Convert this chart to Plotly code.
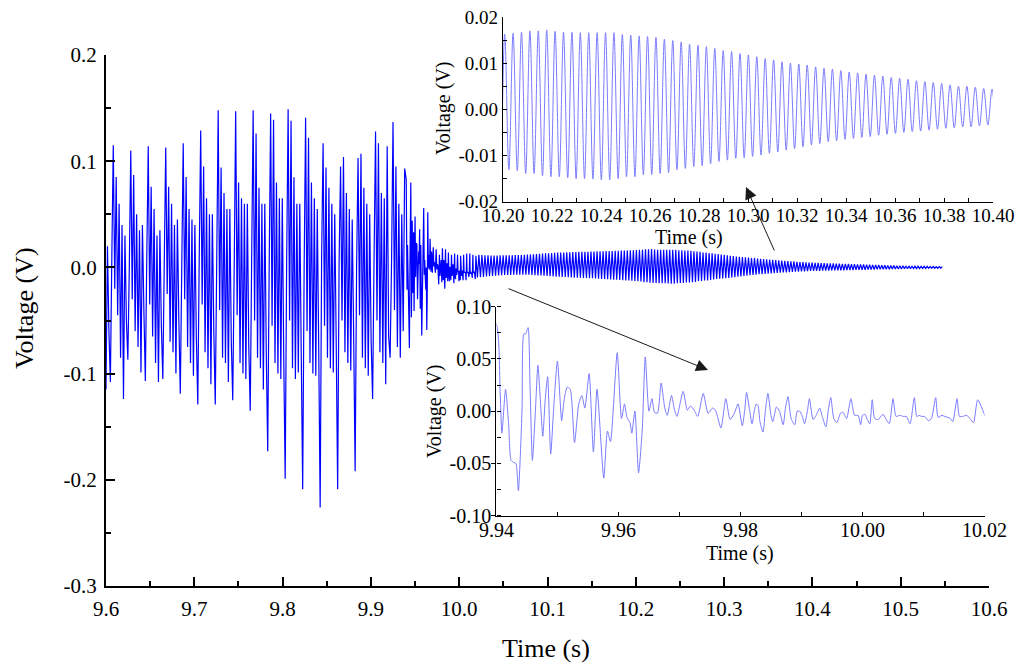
import plotly.graph_objects as go

MAIN_BLUE = "#0000ff"
INSET_BLUE = "#7b7bff"
FONT = "Liberation Serif"

# the page puts the figure 8 px in from the top-left corner of the window
OFF = 8
FW, FH = 1008, 656

# --- burst 9.600-9.938 s: one value every 1.65 ms, 12 values per ~19.8 ms cycle
BURST_T0 = 9.600
BURST_DT = 0.00165
burst_v = [
    -0.115, 0.020, -0.060, -0.108, 0.010, 0.115, -0.020, 0.085, -0.045, 0.060, -0.085, 0.040,
    -0.124, 0.030, -0.050, -0.087, 0.000, 0.110, -0.030, 0.087, -0.060, 0.050, -0.075, 0.035,
    -0.099, 0.040, -0.040, -0.107, 0.010, 0.114, -0.035, 0.076, -0.065, 0.055, -0.090, 0.030,
    -0.108, 0.035, -0.055, -0.105, 0.005, 0.113, -0.025, 0.076, -0.070, 0.060, -0.080, 0.040,
    -0.100, 0.045, -0.050, -0.119, 0.000, 0.117, -0.030, 0.085, -0.075, 0.055, -0.090, 0.045,
    -0.102, 0.040, -0.065, -0.129, 0.010, 0.129, -0.035, 0.095, -0.080, 0.065, -0.095, 0.050,
    -0.110, 0.050, -0.060, -0.129, 0.005, 0.148, -0.040, 0.094, -0.085, 0.070, -0.090, 0.055,
    -0.108, 0.055, -0.070, -0.125, 0.000, 0.147, -0.045, 0.080, -0.090, 0.065, -0.100, 0.060,
    -0.105, 0.060, -0.075, -0.135, 0.010, 0.148, -0.050, 0.126, -0.085, 0.075, -0.095, 0.060,
    -0.115, 0.060, -0.080, -0.173, 0.000, 0.145, -0.055, 0.139, -0.090, 0.080, -0.100, 0.065,
    -0.105, 0.065, -0.085, -0.199, 0.005, 0.149, -0.050, 0.138, -0.095, 0.085, -0.105, 0.060,
    -0.099, 0.060, -0.080, -0.209, 0.000, 0.141, -0.060, 0.122, -0.090, 0.080, -0.100, 0.065,
    -0.102, 0.055, -0.075, -0.226, 0.010, 0.117, -0.055, 0.094, -0.085, 0.075, -0.095, 0.060,
    -0.099, 0.050, -0.070, -0.209, 0.005, 0.095, -0.050, 0.104, -0.080, 0.070, -0.090, 0.055,
    -0.097, 0.045, -0.065, -0.192, 0.000, 0.103, -0.045, 0.107, -0.085, 0.075, -0.095, 0.060,
    -0.102, 0.050, -0.070, -0.124, 0.010, 0.128, -0.050, 0.117, -0.080, 0.070, -0.090, 0.065,
    -0.110, 0.114, -0.065, -0.085, 0.005, 0.137, -0.040, 0.095, -0.075, 0.060, -0.085, 0.050,
    -0.060, 0.093,
]

# --- 9.94-10.02 s
detail_t = [
    9.9400, 9.9406, 9.9409, 9.9415, 9.9420, 9.9424, 9.9428, 9.9432, 9.9436, 9.9442,
    9.9445, 9.9448, 9.9452, 9.9455, 9.9459, 9.9464, 9.9468, 9.9472, 9.9476, 9.9480,
    9.9484, 9.9489, 9.9494, 9.9500, 9.9507, 9.9511, 9.9516, 9.9521, 9.9528, 9.9535,
    9.9540, 9.9545, 9.9552, 9.9559, 9.9565, 9.9576, 9.9582, 9.9587, 9.9598, 9.9605,
    9.9610, 9.9614, 9.9619, 9.9622, 9.9627, 9.9633, 9.9639, 9.9644, 9.9650, 9.9655,
    9.9659, 9.9664, 9.9670, 9.9676, 9.9680, 9.9687, 9.9692, 9.9696, 9.9706, 9.9713,
    9.9718, 9.9724, 9.9730, 9.9739, 9.9747, 9.9754, 9.9759, 9.9768, 9.9776, 9.9783,
    9.9790, 9.9796,
    9.9803, 9.9807, 9.9810, 9.9815, 9.9819, 9.9823, 9.9826, 9.9829, 9.9832, 9.9837,
    9.9841, 9.9845, 9.9850, 9.9853, 9.9859, 9.9864, 9.9870, 9.9874, 9.9878, 9.9883,
    9.9889, 9.9893, 9.9897, 9.9901, 9.9905, 9.9910, 9.9913, 9.9919, 9.9924, 9.9930,
    9.9934, 9.9940, 9.9944, 9.9948, 9.9953, 9.9958, 9.9964, 9.9968, 9.9974, 9.9981,
    9.9987, 9.9993, 9.9997, 10.0000, 10.0004, 10.0008, 10.0012, 10.0016, 10.0020, 10.0026,
    10.0030, 10.0034, 10.0038, 10.0044, 10.0050, 10.0055, 10.0061, 10.0067, 10.0072, 10.0078,
    10.0085, 10.0089, 10.0093, 10.0097, 10.0102, 10.0108, 10.0113, 10.0120, 10.0124, 10.0130,
    10.0135, 10.0144, 10.0148, 10.0155, 10.0159, 10.0164, 10.0171, 10.0176, 10.0182, 10.0189,
]
detail_v = [
    0.083, 0.021, -0.021, 0.021, -0.012, -0.047, -0.049, -0.050, -0.076, 0.001,
    0.074, 0.074, 0.080, 0.027, -0.047, 0.001, 0.044, 0.011, -0.024, 0.011,
    0.033, -0.041, 0.004, 0.048, -0.009, 0.011, 0.023, 0.021, -0.030, 0.007,
    0.015, 0.003, 0.036, -0.039, 0.021, -0.064, -0.019, -0.029, 0.056, -0.007,
    0.007, -0.006, -0.011, -0.021, 0.000, -0.059, -0.018, 0.052, 0.000, 0.012,
    -0.001, -0.002, 0.027, 0.003, -0.004, 0.015, 0.001, -0.005, 0.019, 0.001,
    0.005, 0.001, -0.005, 0.017, -0.002, 0.003, 0.001, -0.016, 0.012, -0.008,
    -0.002, 0.007,
    -0.014, 0.001, 0.018, 0.001, -0.012, 0.001, 0.007, 0.005, -0.010, -0.020,
    0.001, 0.017, -0.004, -0.010, 0.004, 0.000, -0.013, 0.004, 0.014, -0.007,
    -0.013, 0.000, 0.000, -0.004, -0.012, 0.001, 0.012, -0.008, -0.004, 0.003,
    -0.005, -0.015, 0.001, 0.013, -0.007, -0.011, -0.002, -0.001, -0.007, 0.012,
    -0.004, -0.004, -0.013, -0.004, -0.003, -0.008, -0.012, 0.011, -0.007, -0.008,
    -0.005, -0.003, -0.007, -0.012, 0.012, -0.005, -0.004, -0.005, -0.005, -0.012,
    0.013, -0.005, -0.004, -0.005, -0.005, -0.009, -0.007, 0.013, -0.006, -0.004,
    -0.005, -0.007, -0.010, 0.012, -0.005, -0.005, -0.004, -0.007, -0.011, 0.011,
]

# --- ringing after 10.02 s: one trough + one peak per period, from the last detail peak
TAIL_T0 = 10.0189
TAIL_PERIOD = 0.00343
tail_troughs = [
    -.0095, -.0092, -.0089, -.0086, -.0083, -.0080, -.0078, -.0076, -.0074, -.0072,
    -.0071, -.0070, -.0069, -.0068, -.0068, -.0068, -.0068, -.0069, -.0071, -.0073,
    -.0075, -.0077, -.0079, -.0081, -.0083, -.0085, -.0087, -.0088, -.0090, -.0091,
    -.0093, -.0094, -.0096, -.0097, -.0098, -.0099, -.0100, -.0101, -.0102, -.0104,
    -.0106, -.0108, -.0110, -.0111, -.0113, -.0115, -.0117, -.0118, -.0120, -.0122,
    -.0124, -.0126, -.0128,
    -.0131, -.0133, -.0139, -.0139, -.0144, -.0146, -.0146, -.0148, -.0150, -.0150,
    -.0151, -.0153, -.0153, -.0150, -.0146, -.0146, -.0142, -.0141, -.0139, -.0137,
    -.0131, -.0128, -.0124, -.0122, -.0118, -.0113, -.0110, -.0106, -.0105,
    -.0102, -.0099, -.0095, -.0092, -.0088, -.0085, -.0081, -.0077, -.0074, -.0070,
    -.0068, -.0065, -.0063, -.0061, -.0059, -.0056, -.0054, -.0052, -.0050, -.0048,
    -.0047, -.0045, -.0043, -.0041, -.0040, -.0038, -.0038, -.0036, -.0034,
    -.0033, -.0033, -.0032, -.0031, -.0031, -.0030, -.0029, -.0029, -.0028, -.0027,
    -.0027, -.0026, -.0025, -.0025, -.0024, -.0023, -.0023, -.0022, -.0021, -.0021,
    -.0020, -.0019, -.0019, -.0018, -.0017, -.0017, -.0016, -.0015, -.0015, -.0014,
    -.0013, -.0013, -.0012, -.0012, -.0011, -.0011, -.0010, -.0010, -.0009, -.0009,
    -.0008, -.0008, -.0007,
]
tail_peaks = [
    .0118, .0116, .0115, .0113, .0112, .0112, .0112, .0113, .0113, .0114,
    .0115, .0115, .0116, .0117, .0117, .0118, .0120, .0122, .0124, .0126,
    .0128, .0130, .0132, .0134, .0136, .0137, .0139, .0140, .0141, .0142,
    .0143, .0144, .0145, .0146, .0147, .0148, .0148, .0149, .0150, .0151,
    .0151, .0152, .0153, .0154, .0155, .0156, .0157, .0158, .0159, .0160,
    .0161, .0162,
    .0163, .0165, .0167, .0170, .0170, .0172, .0169, .0167, .0167, .0166,
    .0166, .0166, .0166, .0166, .0162, .0161, .0159, .0158, .0156, .0152,
    .0149, .0146, .0141, .0139, .0136, .0132, .0127, .0125, .0121,
    .0118, .0114, .0110, .0107, .0103, .0100, .0098, .0096, .0092, .0089,
    .0087, .0084, .0081, .0079, .0076, .0074, .0072, .0069, .0067, .0065,
    .0062, .0060, .0058, .0056, .0053, .0050, .0050, .0048, .0045,
    .0044, .0043, .0042, .0041, .0040, .0039, .0038, .0037, .0036, .0035,
    .0034, .0033, .0032, .0031, .0030, .0029, .0028, .0027, .0026, .0025,
    .0024, .0023, .0022, .0021, .0020, .0019, .0018, .0017, .0016, .0016,
    .0015, .0014, .0014, .0013, .0012, .0012, .0011, .0010, .0010, .0009,
    .0009, .0008, .0008, .0007,
]

# tick labels
main_x_ticks = [9.6, 9.7, 9.8, 9.9, 10.0, 10.1, 10.2, 10.3, 10.4, 10.5, 10.6]
main_x_labels = ["9.6", "9.7", "9.8", "9.9", "10.0", "10.1", "10.2", "10.3", "10.4", "10.5", "10.6"]
main_y_ticks = [-0.3, -0.2, -0.1, 0.0, 0.1, 0.2]
main_y_labels = ["-0.3", "-0.2", "-0.1", "0.0", "0.1", "0.2"]
top_x_ticks = [10.20, 10.22, 10.24, 10.26, 10.28, 10.30, 10.32, 10.34, 10.36, 10.38, 10.40]
top_x_labels = ["10.20", "10.22", "10.24", "10.26", "10.28", "10.30", "10.32", "10.34", "10.36", "10.38", "10.40"]
top_y_ticks = [-0.02, -0.01, 0.0, 0.01, 0.02]
top_y_labels = ["-0.02", "-0.01", "0.00", "0.01", "0.02"]
low_x_ticks = [9.94, 9.96, 9.98, 10.00, 10.02]
low_x_labels = ["9.94", "9.96", "9.98", "10.00", "10.02"]
low_y_ticks = [-0.10, -0.05, 0.0, 0.05, 0.10]
low_y_labels = ["-0.10", "-0.05", "0.00", "0.05", "0.10"]

assert len(detail_t) == len(detail_v)
assert len(tail_troughs) == len(tail_peaks)

burst_t = [BURST_T0 + i * BURST_DT for i in range(len(burst_v))]
tail_t, tail_v = [], []
for j, (lo, hi) in enumerate(zip(tail_troughs, tail_peaks), start=1):
    tail_t += [TAIL_T0 + (j - 0.5) * TAIL_PERIOD, TAIL_T0 + j * TAIL_PERIOD]
    tail_v += [lo, hi]

main_t = burst_t + detail_t + tail_t
main_v = burst_v + detail_v + tail_v


# window pixels -> paper fractions
def fx(px):
    return (px - OFF) / FW


def fy(py):
    return 1 - (py - OFF) / FH


def axis(ticks, labels, size, lw, ticklen, minor_dtick, minor_len, standoff, tickdir="inside"):
    return dict(
        showline=True, linecolor="black", linewidth=lw, mirror=False,
        showgrid=False, zeroline=False, automargin=False,
        tickmode="array", tickvals=ticks, ticktext=labels,
        ticks=tickdir, ticklen=ticklen, tickwidth=lw, tickcolor="black",
        tickfont=dict(family=FONT, size=size, color="black"),
        ticklabelstandoff=standoff, ticklabeloverflow="allow",
        minor=dict(ticks="inside", ticklen=minor_len, tickwidth=lw, tickcolor="black",
                   dtick=minor_dtick, tick0=ticks[0], showgrid=False),
    )


fig = go.Figure()
fig.add_trace(go.Scatter(
    x=main_t, y=main_v, mode="lines", xaxis="x", yaxis="y",
    line=dict(color=MAIN_BLUE, width=1.2), hoverinfo="skip",
))
fig.add_trace(go.Scatter(
    x=tail_t, y=tail_v, mode="lines", xaxis="x2", yaxis="y2",
    line=dict(color=INSET_BLUE, width=1, shape="spline", smoothing=1), hoverinfo="skip",
))
fig.add_trace(go.Scatter(
    x=burst_t[-2:] + detail_t + tail_t[:3], y=burst_v[-2:] + detail_v + tail_v[:3],
    mode="lines", xaxis="x3", yaxis="y3",
    line=dict(color=INSET_BLUE, width=1, shape="spline", smoothing=0.6), hoverinfo="skip",
))

fig.update_layout(
    width=FW, height=FH,
    margin=dict(l=0, r=0, t=0, b=0, autoexpand=False),
    paper_bgcolor="white", plot_bgcolor="rgba(0,0,0,0)",
    showlegend=False,
    font=dict(family=FONT),
    xaxis=dict(domain=[fx(106), fx(989)], range=[9.6, 10.6], anchor="y",
               **axis(main_x_ticks, main_x_labels, 21, 2, 9, 0.05, 5, 3)),
    yaxis=dict(domain=[fy(586), fy(55)], range=[-0.3, 0.2], anchor="x",
               **axis(main_y_ticks, main_y_labels, 21, 2, 9, 0.05, 5, 3)),
    xaxis2=dict(domain=[fx(503), fx(993)], range=[10.2, 10.4], anchor="y2",
                **axis(top_x_ticks, top_x_labels, 19, 1.3, 4, 0.01, 4, -4)),
    yaxis2=dict(domain=[fy(201.7), fy(17)], range=[-0.02, 0.02], anchor="x2",
                **axis(top_y_ticks, top_y_labels, 19, 1.3, 4, 0.005, 4, 0)),
    xaxis3=dict(domain=[fx(496.4), fx(984.5)], range=[9.94, 10.02], anchor="y3",
                **axis(low_x_ticks, low_x_labels, 20, 1.3, 4, 0.01, 4, -4)),
    yaxis3=dict(domain=[fy(515.7), fy(306.7)], range=[-0.1, 0.1], anchor="x3",
                **axis(low_y_ticks, low_y_labels, 20, 1.3, 4, 0.025, 4, -4, tickdir="outside")),
)

titles = [
    ("Time (s)", 546, 648, 26, 0),
    ("Voltage (V)", 24, 308, 26, -90),
    ("Time (s)", 689, 237, 20, 0),
    ("Voltage (V)", 443, 108, 20, -90),
    ("Time (s)", 740, 553, 20, 0),
    ("Voltage (V)", 434, 411, 20, -90),
]
for text, px, py, size, angle in titles:
    fig.add_annotation(
        text=text, x=fx(px), y=fy(py), xref="paper", yref="paper",
        showarrow=False, textangle=angle, xanchor="center", yanchor="middle",
        font=dict(family=FONT, size=size, color="black"),
    )

# arrows: head position in paper coords, tail as pixel offset
for hx, hy, tx, ty in [(746, 187, 775, 252), (708, 370, 507, 288)]:
    fig.add_annotation(
        x=fx(hx), y=fy(hy), xref="paper", yref="paper",
        ax=tx - hx, ay=ty - hy, axref="pixel", ayref="pixel",
        text="", showarrow=True, arrowhead=2, arrowsize=2.4, arrowwidth=1,
        arrowcolor="#1a1a1a",
    )

fig.write_html("out.html")
